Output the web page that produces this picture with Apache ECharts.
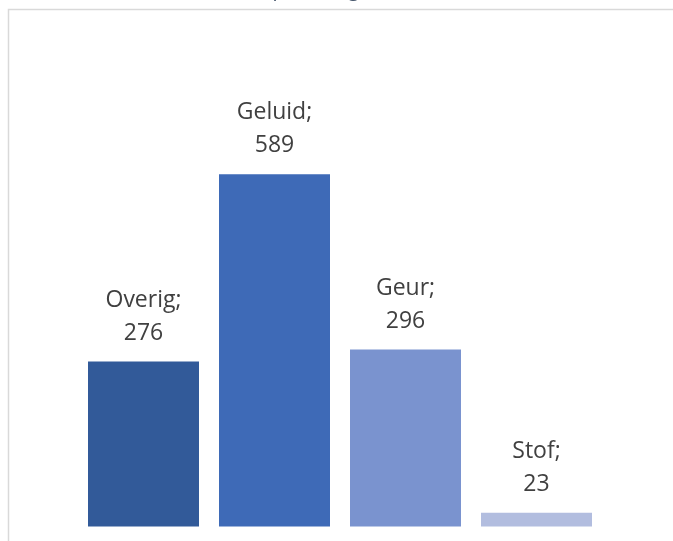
<!DOCTYPE html>
<html>
<head>
<meta charset="utf-8">
<style>html,body{margin:0;padding:0;background:#fff;}#c{width:673px;height:541px;}</style>
<script src="https://cdn.jsdelivr.net/npm/echarts@6/dist/echarts.min.js"></script>
</head>
<body>
<div id="c"></div>
<script>
var categories = ['Overig', 'Geluid', 'Geur', 'Stof'];
var values = [276, 589, 296, 23];
var barColors = ['#325A99', '#3E6AB7', '#7A93CF', '#B2BDDF'];
var titleText = 'Klachten per categorie';

var chart = echarts.init(document.getElementById('c'), null, {renderer: 'canvas'});
chart.setOption({
  animation: false,
  backgroundColor: '#fff',
  graphic: [{
    type: 'rect',
    shape: {x: 8.5, y: 9.5, width: 700, height: 600},
    style: {fill: 'none', stroke: '#D9D9D9', lineWidth: 1.5},
    z: -1
  }, {
    type: 'text',
    x: 291, y: -10,
    style: {text: titleText, fill: '#44546A', font: '20px "Open Sans"', align: 'center', verticalAlign: 'middle'}
  }],
  grid: {left: 78, right: 71, top: 108, bottom: 14.5, containLabel: false},
  xAxis: {
    type: 'category', data: categories,
    axisLine: {show: false}, axisTick: {show: false}, axisLabel: {show: false}
  },
  yAxis: {
    type: 'value', min: 0, max: 700,
    axisLine: {show: false}, axisTick: {show: false}, axisLabel: {show: false},
    splitLine: {show: false}
  },
  series: [{
    type: 'bar',
    data: values.map(function (v, i) { return {value: v, itemStyle: {color: barColors[i]}}; }),
    barWidth: 111,
    label: {
      show: true, position: 'top', distance: 12,
      formatter: '{b};\n{c}',
      fontFamily: 'Open Sans', fontSize: 23, lineHeight: 33, color: '#404040', align: 'center'
    }
  }]
});
</script>
</body>
</html>
